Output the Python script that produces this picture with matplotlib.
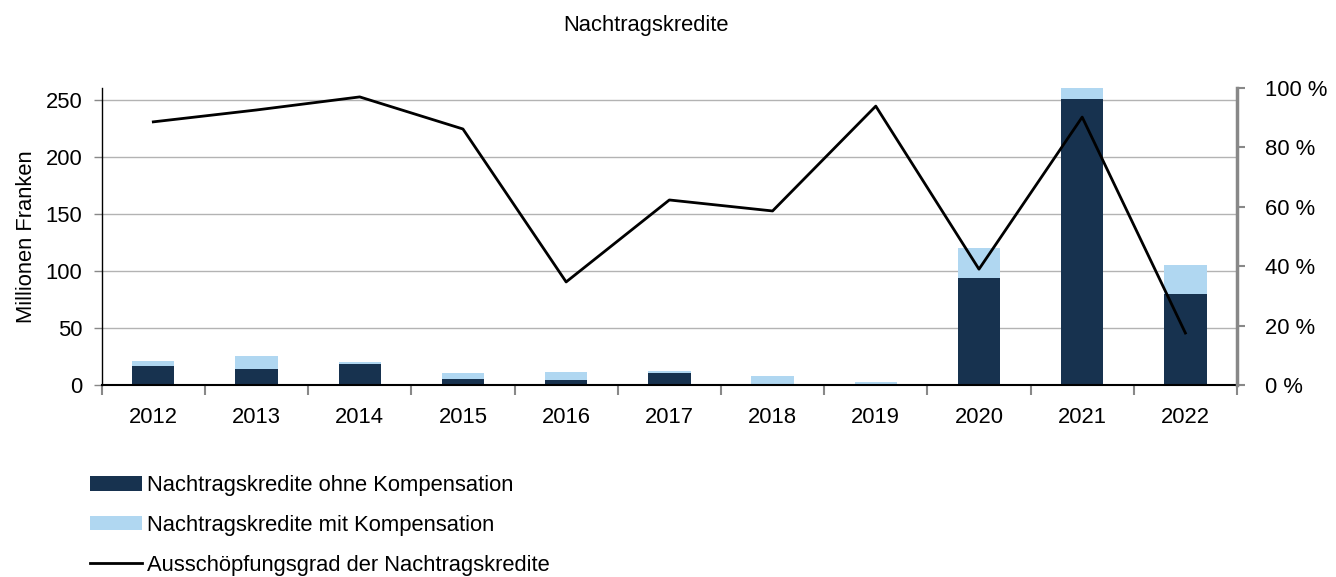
import matplotlib
matplotlib.use("Agg")
import matplotlib.pyplot as plt
from matplotlib.patches import Patch
from matplotlib.lines import Line2D
import numpy as np

plt.rcParams['font.family'] = ['Liberation Sans', 'DejaVu Sans']

years = ["2012", "2013", "2014", "2015", "2016", "2017", "2018", "2019", "2020", "2021", "2022"]
ohne_kompensation = [16.7, 13.8, 18.4, 5.3, 4.1, 10.5, 0.0, 0.9, 93.6, 250.6, 79.5]
mit_kompensation = [4.4, 11.9, 2.0, 5.3, 7.3, 1.8, 7.9, 2.0, 26.3, 10.2, 25.8]
ausschoepfung = [88.6, 92.6, 97.0, 86.2, 34.7, 62.3, 58.6, 93.9, 39.0, 90.2, 17.5]

dark = "#17324f"
light = "#b0d7f1"
fs = 15.8

fig = plt.figure(figsize=(13.36, 5.77), dpi=100)
ax = fig.add_axes([101.7 / 1336, 1 - 385 / 577, (1237 - 101.7) / 1336, 297 / 577])
ax2 = ax.twinx()

x = np.arange(len(years))
w = 0.41
ax.bar(x, ohne_kompensation, width=w, color=dark, edgecolor="none", zorder=2)
ax.bar(x, mit_kompensation, width=w, bottom=ohne_kompensation, color=light,
       edgecolor="none", zorder=2)

ax.set_xlim(-0.5, len(years) - 0.5)
ax.set_ylim(0, 250 * 297 / 285)
ax.set_yticks([0, 50, 100, 150, 200, 250])
ax.yaxis.grid(True, color="#b3b3b3", linewidth=1.0, zorder=0)
ax.set_axisbelow(True)
ax.set_xticks(x)
ax.set_xticklabels(years, fontsize=fs)
ax.tick_params(axis="x", length=0, pad=16)
ax.set_xticks(np.arange(len(years) + 1) - 0.5, minor=True)
ax.tick_params(axis="x", which="minor", length=7, width=1.5, color="#888888", direction="out")
ax.tick_params(axis="y", labelsize=fs, length=6, width=1.0, color="#888888", pad=8)
ax.set_ylabel("Millionen Franken", fontsize=fs, labelpad=6)

for s in ("top", "right"):
    ax.spines[s].set_visible(False)
ax.spines["left"].set_color("black")
ax.spines["left"].set_linewidth(1.0)
ax.spines["bottom"].set_color("black")
ax.spines["bottom"].set_linewidth(1.5)

ax2.plot(x, ausschoepfung, color="black", linewidth=2.0, zorder=3)
ax2.set_ylim(0, 100)
ax2.set_yticks([0, 20, 40, 60, 80, 100])
ax2.set_yticklabels([f"{v} %" for v in [0, 20, 40, 60, 80, 100]], fontsize=fs)
ax2.tick_params(axis="y", length=6, width=1.5, color="#888888", pad=14)
for s in ("top", "left", "bottom"):
    ax2.spines[s].set_visible(False)
ax2.spines["right"].set_color("#888888")
ax2.spines["right"].set_linewidth(2.5)

fig.text(646 / 1336, 1 - 25 / 577, "Nachtragskredite", ha="center", va="center", fontsize=fs)

handles = [
    Patch(facecolor=dark, edgecolor="none"),
    Patch(facecolor=light, edgecolor="none"),
    Line2D([0], [0], color="black", linewidth=2.0),
]
labels = [
    "Nachtragskredite ohne Kompensation",
    "Nachtragskredite mit Kompensation",
    "Ausschöpfungsgrad der Nachtragskredite",
]
fig.legend(handles, labels, loc="upper left", bbox_to_anchor=(90 / 1336, 1 - 475 / 577),
           frameon=False, fontsize=fs, handlelength=2.35, handleheight=0.65,
           handletextpad=0.25, labelspacing=0.86, borderaxespad=0, borderpad=0)

fig.savefig("out.png", dpi=100)
